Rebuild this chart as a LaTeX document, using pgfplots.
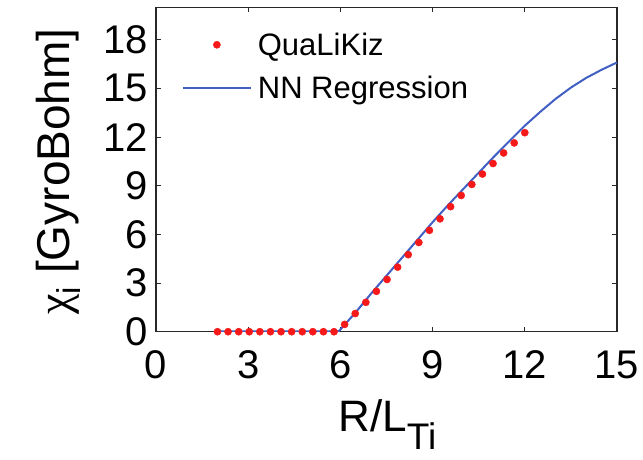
\documentclass[border=0pt]{standalone}
\usepackage{fontspec}
\setmainfont{Liberation Sans}
\newfontfamily\chifont{Liberation Serif}
\usepackage{pgfplots}
\pgfplotsset{compat=1.18}
\definecolor{qred}{RGB}{245,25,25}
\definecolor{nnblue}{RGB}{65,95,195}
\definecolor{axgray}{RGB}{40,40,40}
\pgfplotsset{
  dotlegend/.style={legend image code/.code={\draw[mark repeat=2,mark phase=2,##1] plot coordinates {(0pt,0pt) (34pt,0pt) (68pt,0pt)};}},
  linelegend/.style={legend image code/.code={\draw[##1] (0pt,0pt) -- (68pt,0pt);}},
}
\begin{document}
\begin{tikzpicture}
\path[use as bounding box] (0,0) rectangle (643pt,459pt);
\begin{axis}[
  at={(156pt,127.3pt)}, anchor=south west,
  scale only axis, width=461pt, height=324.4pt,
  xmin=0, xmax=15, ymin=0, ymax=20,
  xtick={0,3,6,9,12,15}, ytick={0,3,6,9,12,15,18},
  tick align=inside, tick pos=both, major tick length=5pt,
  axis line style={axgray, line width=1.4pt},
  every tick/.style={axgray, line width=1pt},
  /pgf/number format/assume math mode=true,
  tick label style={font=\fontsize{40}{48}\selectfont, inner sep=0pt},
  yticklabel style={xshift=-8pt},
  xticklabel style={yshift=-19pt},
  xlabel={R/L\raisebox{-18pt}{\fontsize{37}{44}\selectfont Ti}},
  ylabel={{\chifont χ}\raisebox{-11pt}{\fontsize{33}{40}\selectfont i} [GyroBohm]},
  label style={font=\fontsize{46}{54}\selectfont, inner sep=0pt},
  xlabel style={font=\fontsize{44}{52}\selectfont, at={(axis description cs:0.502,-0.308)}, anchor=base},
  ylabel style={at={(axis description cs:-0.1866,0.494)}, anchor=base},
  legend style={draw=none, fill=none, inner sep=0pt,
    at={(axis description cs:0.0557,0.922)}, anchor=north west,
    font=\fontsize{31}{37}\selectfont,
    cells={anchor=west}, row sep=19pt, column sep=6pt,
    nodes={inner sep=0pt}},
]
\addplot[only marks, mark=*, mark size=3.6pt, color=qred, dotlegend]
  coordinates {
  (2.000,0.00) (2.345,0.00) (2.690,0.00) (3.034,0.00) (3.379,0.00)
  (3.724,0.00) (4.069,0.00) (4.414,0.00) (4.759,0.00) (5.103,0.00)
  (5.448,0.00) (5.793,0.00) (6.138,0.45) (6.483,1.12) (6.828,1.81)
  (7.172,2.49) (7.517,3.22) (7.862,3.98) (8.207,4.75) (8.552,5.50)
  (8.897,6.25) (9.241,6.96) (9.586,7.71) (9.931,8.40) (10.276,9.08)
  (10.621,9.72) (10.966,10.37) (11.310,11.02) (11.655,11.64) (12.000,12.27)
  };
\addlegendentry{QuaLiKiz}
\addplot[color=nnblue, line width=2pt, linelegend]
  coordinates {
  (2.0,0.02) (3.0,0.02) (4.0,0.02) (5.0,0.02) (5.95,0.03)
  (6.5,1.20) (7.0,2.35) (7.5,3.45) (8.0,4.55) (8.5,5.65)
  (9.0,6.75) (9.5,7.80) (10.0,8.80) (10.5,9.80) (11.0,10.80)
  (11.5,11.75) (12.0,12.70) (12.5,13.55) (13.0,14.35) (13.5,15.05)
  (14.0,15.65) (14.5,16.15) (15.0,16.60)
  };
\addlegendentry{NN Regression}
\end{axis}
\end{tikzpicture}
\end{document}
